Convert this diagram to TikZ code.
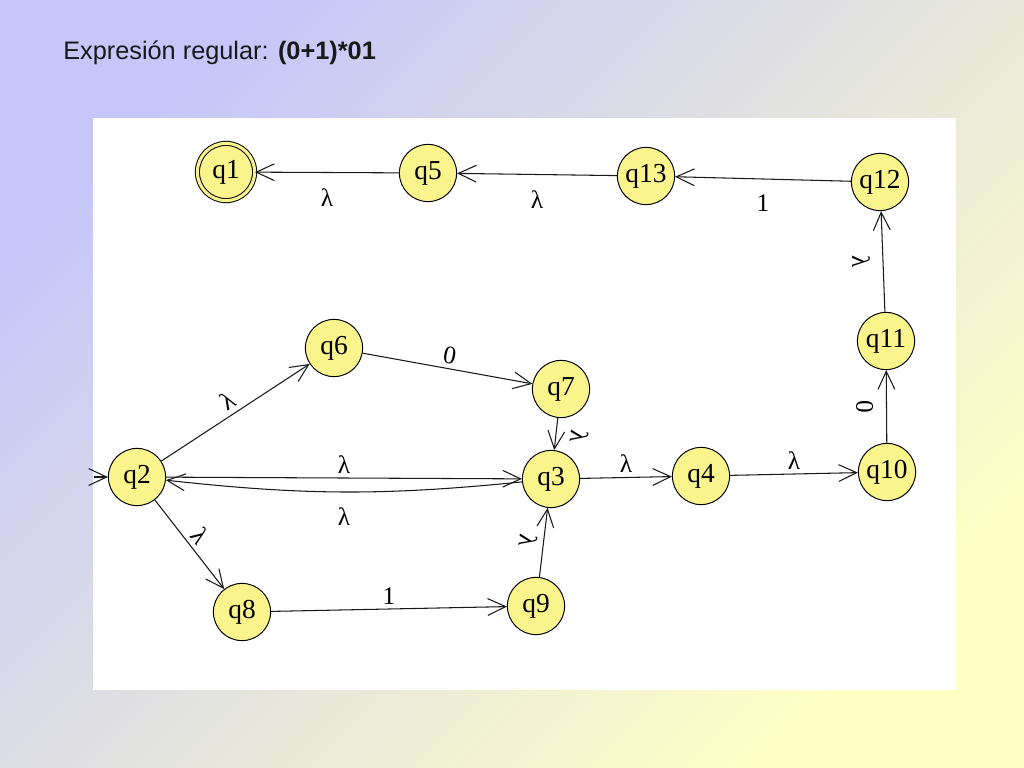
\documentclass[tikz,border=0pt]{standalone}
\usepackage{fontspec}
\setmainfont{Liberation Serif}
\newfontfamily\titlefont{Liberation Sans}
\usetikzlibrary{arrows.meta}

\definecolor{statefill}{RGB}{250,244,140}
\definecolor{bgblue}{RGB}{198,198,250}
\definecolor{bgyellow}{RGB}{255,255,198}
\definecolor{edgecol}{RGB}{25,25,25}

\begin{document}
\begin{tikzpicture}[x=0.025cm, y=-0.025cm,
  state/.style={circle, draw=black, line width=0.7pt, fill=statefill,
    minimum size=1.43cm, inner sep=0pt, font=\fontsize{19.5}{21}\selectfont},
  final/.style={state, double=statefill, double distance=2.2pt},
  edge/.style={draw=edgecol, line width=0.75pt,
    -{Straight Barb[length=4.5mm, width=4.2mm]}},
  lbl/.style={font=\fontsize{18}{20}\selectfont, inner sep=3pt},
  lblb/.style={lbl, inner sep=11pt}]
  \useasboundingbox (0,0) rectangle (1024,768);

  % Background and sheet
  \shade[top color=bgblue, bottom color=bgyellow, shading angle=45] (0,0) rectangle (1024,768);
  \fill[white] (93,118) rectangle (956,690);

  % Title
  \node[anchor=base west, inner sep=0pt, text=black!90,
    font=\titlefont\fontsize{18}{21}\selectfont] (title) at (63,60)
    {Expresión regular: \textbf{(0+1)*01}};

  % Top row
  \node[final] (q1) at (226,172) {q1};
  \node[state] (q5) at (428,173) {q5};
  \node[state] (q13) at (646,176) {q13};
  \node[state] (q12) at (880,182) {q12};

  % Right column
  \node[state] (q11) at (886,341) {q11};
  \node[state] (q10) at (887,472) {q10};

  % Middle row
  \node[state] (q2) at (137,477) {q2};
  \node[state] (q6) at (334,348) {q6};
  \node[state] (q7) at (561,389) {q7};
  \node[state] (q3) at (551,479) {q3};
  \node[state] (q4) at (701,476) {q4};

  % Bottom row
  \node[state] (q8) at (242,612) {q8};
  \node[state] (q9) at (536,606) {q9};

  % Start arrow
  \coordinate (start) at (94,477);
  \draw[edge] (start) -- (q2);

  % Transitions
  \draw[edge] (q2) -- node[lbl, above, sloped] {λ} (q6);
  \draw[edge] (q6) -- node[lbl, above, sloped] {0} (q7);
  \draw[edge] (q7) -- node[lbl, rotate=-97, anchor=south, inner sep=10pt] {λ} (q3);
  \draw[edge] (q2) -- node[lbl, above] {λ} (q3);
  \draw[edge] (q3) to[bend left=6] node[lblb, below] {λ} (q2);
  \draw[edge] (q2) -- node[lbl, above, sloped] {λ} (q8);
  \draw[edge] (q8) -- node[lbl, above] {1} (q9);
  \draw[edge] (q9) -- node[lbl, rotate=-98, anchor=north, inner sep=4pt] {λ} (q3);
  \draw[edge] (q3) -- node[lbl, above] {λ} (q4);
  \draw[edge] (q4) -- node[lbl, above] {λ} (q10);
  \draw[edge] (q10) -- node[lbl, rotate=-90, anchor=north, inner sep=9pt] {0} (q11);
  \draw[edge] (q11) -- node[lbl, rotate=-90, anchor=north, inner sep=9pt] {λ} (q12);
  \draw[edge] (q12) -- node[lblb, below] {1} (q13);
  \draw[edge] (q13) -- node[lblb, below] {λ} (q5);
  \draw[edge] (q5) -- node[lblb, below] {λ} (q1);
\end{tikzpicture}
\end{document}
